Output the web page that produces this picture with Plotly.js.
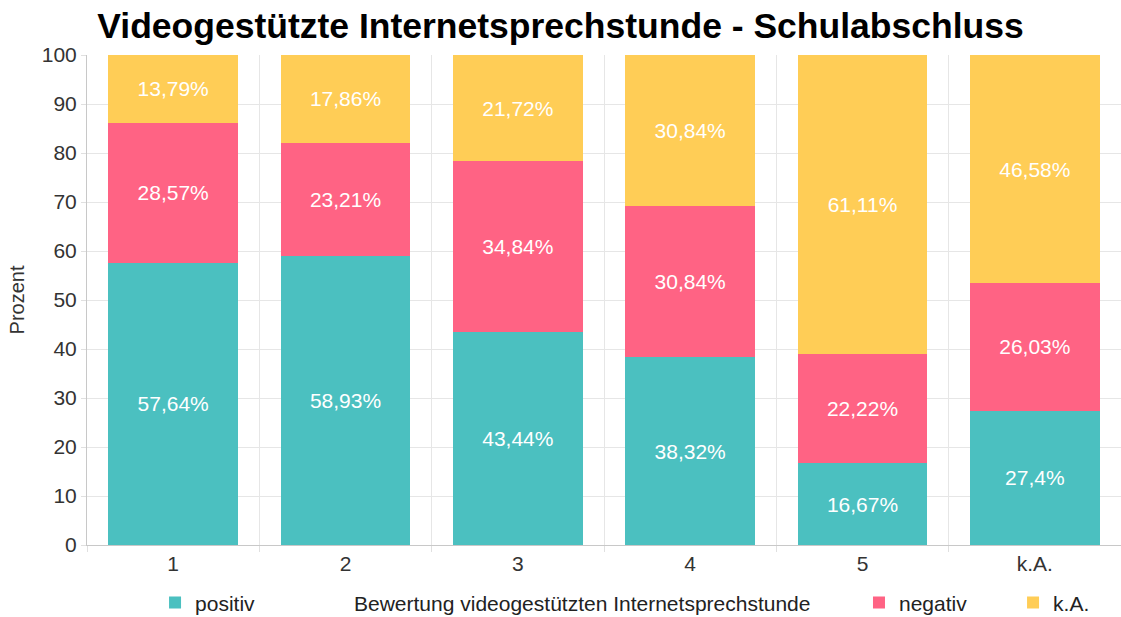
<!DOCTYPE html>
<html>
<head>
<meta charset="utf-8">
<script src="https://cdn.plot.ly/plotly-3.0.1.min.js"></script>
<style>html,body{margin:0;padding:0;background:#fff;}#chart{width:1121px;height:617px;}</style>
</head>
<body>
<div id="chart"></div>
<script>
const categories = ["1", "2", "3", "4", "5", "k.A."];
const positiv = [57.64, 58.93, 43.44, 38.32, 16.67, 27.4];
const negativ = [28.57, 23.21, 34.84, 30.84, 22.22, 26.03];
const keineAngabe = [13.79, 17.86, 21.72, 30.84, 61.11, 46.58];
const yTicks = [0, 10, 20, 30, 40, 50, 60, 70, 80, 90, 100];

const fmt = v => String(v).replace('.', ',') + '%';
const FONT = 'Liberation Sans, Arial, Helvetica, sans-serif';

function mk(name, vals, color, legendId) {
  return {
    type: 'bar', name: name, x: categories, y: vals,
    marker: {color: color},
    text: vals.map(fmt),
    textposition: 'inside', insidetextanchor: 'middle', textangle: 0,
    textfont: {color: '#ffffff', size: 21, family: FONT},
    hoverinfo: 'skip', legend: legendId
  };
}

const data = [
  mk('positiv', positiv, '#4BC0C0', 'legend'),
  mk('negativ', negativ, '#FF6384', 'legend2'),
  mk('k.A.', keineAngabe, '#FFCD56', 'legend3')
];

const legBase = {orientation: 'h', yanchor: 'middle', xanchor: 'left', y: -0.118,
  font: {size: 21, color: '#222', family: FONT}, bgcolor: 'rgba(0,0,0,0)'};

const layout = {
  width: 1121, height: 617,
  margin: {l: 87, r: 0, t: 55, b: 72, autoexpand: false},
  paper_bgcolor: '#ffffff', plot_bgcolor: '#ffffff',
  font: {family: FONT, color: '#333'},
  barmode: 'stack', bargap: 0.248,
  title: {text: 'Videogestützte Internetsprechstunde - Schulabschluss',
    font: {size: 35.5, color: '#000', family: FONT, weight: 'bold'},
    x: 0.5, xanchor: 'center', y: 0.958, yanchor: 'middle', xref: 'container'},
  xaxis: {type: 'category', tickson: 'boundaries', showgrid: true, gridcolor: '#e6e6e6',
    ticks: 'outside', ticklen: 6, tickcolor: '#e0e0e0',
    showline: true, linecolor: '#c8c8c8', linewidth: 1,
    tickfont: {size: 21, color: '#333', family: FONT}, automargin: false},
  yaxis: {range: [0, 100], tickvals: yTicks, showgrid: true, gridcolor: '#e6e6e6',
    ticks: 'outside', ticklen: 5, tickcolor: '#e0e0e0',
    showline: true, linecolor: '#c8c8c8', linewidth: 1, zeroline: false,
    tickfont: {size: 21, color: '#333', family: FONT}, automargin: false,
    title: {text: 'Prozent', font: {size: 20, color: '#333', family: FONT}, standoff: 11}},
  showlegend: true,
  legend: Object.assign({}, legBase, {x: 0.0658}),
  legend2: Object.assign({}, legBase, {x: 0.7466}),
  legend3: Object.assign({}, legBase, {x: 0.8956}),
  annotations: [{text: 'Bewertung videogestützten Internetsprechstunde', xref: 'paper', yref: 'paper',
    x: 0.479, y: -0.12, xanchor: 'center', yanchor: 'middle', showarrow: false,
    font: {size: 21, color: '#222', family: FONT}}]
};

Plotly.newPlot('chart', data, layout, {displayModeBar: false, staticPlot: true});
</script>
</body>
</html>
